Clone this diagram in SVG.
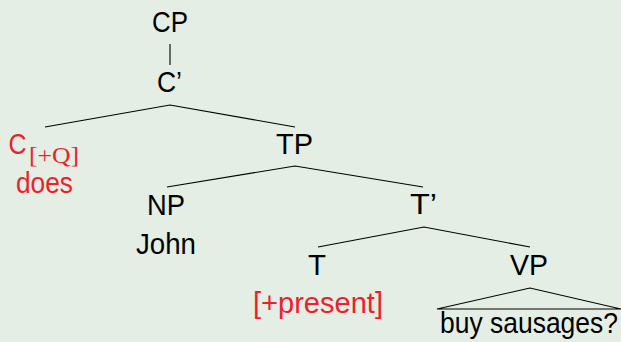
<svg xmlns="http://www.w3.org/2000/svg" width="621" height="342" viewBox="0 0 621 342">
  <style>
    .lbl { font-family: "Liberation Sans", Arial, sans-serif; font-size: 30px; fill: #000; text-anchor: middle; }
    .red { fill: #ee1f2d; }
    .sub { font-family: "Liberation Serif", "Times New Roman", serif; font-size: 24px; fill: #ee1f2d; }
    .edge { stroke: #000; stroke-width: 1.1; fill: none; }
  </style>
  <rect width="621" height="342" fill="#e4eee4"/>

  <!-- tree branches -->
  <g id="connectors">
    <line class="edge" x1="170" y1="44" x2="170" y2="65"/>
    <polyline class="edge" points="45,127 170,105 295,127"/>
    <polyline class="edge" points="167,187 295,166 423,187"/>
    <polyline class="edge" points="318,247 424,227 530,247"/>
    <polygon class="edge" points="530,288 437,309 621,309"/>
  </g>

  <g id="cp"><text class="lbl" x="170" y="32" textLength="36" lengthAdjust="spacingAndGlyphs">CP</text></g>
  <g id="cbar"><text class="lbl" x="169.5" y="92" textLength="25" lengthAdjust="spacingAndGlyphs">C’</text></g>
  <g id="c">
    <text class="lbl red" x="17.5" y="154" textLength="18" lengthAdjust="spacingAndGlyphs">C</text>
    <text class="sub" x="29" y="163" textLength="50" lengthAdjust="spacingAndGlyphs">[+Q]</text>
    <text class="lbl red" x="44.5" y="193" textLength="57" lengthAdjust="spacingAndGlyphs">does</text>
  </g>
  <g id="tp"><text class="lbl" x="294.5" y="154" textLength="37" lengthAdjust="spacingAndGlyphs">TP</text></g>
  <g id="np">
    <text class="lbl" x="166" y="215" textLength="38" lengthAdjust="spacingAndGlyphs">NP</text>
    <text class="lbl" x="166" y="254" textLength="60" lengthAdjust="spacingAndGlyphs">John</text>
  </g>
  <g id="tbar"><text class="lbl" x="423.5" y="214" textLength="27" lengthAdjust="spacingAndGlyphs">T’</text></g>
  <g id="t">
    <text class="lbl" x="317" y="275" textLength="18" lengthAdjust="spacingAndGlyphs">T</text>
    <text class="lbl red" x="318" y="313" textLength="130" lengthAdjust="spacingAndGlyphs">[+present]</text>
  </g>
  <g id="vp">
    <text class="lbl" x="529" y="275" textLength="38" lengthAdjust="spacingAndGlyphs">VP</text>
    <text class="lbl" x="529" y="333" textLength="178" lengthAdjust="spacingAndGlyphs">buy sausages?</text>
  </g>
</svg>
